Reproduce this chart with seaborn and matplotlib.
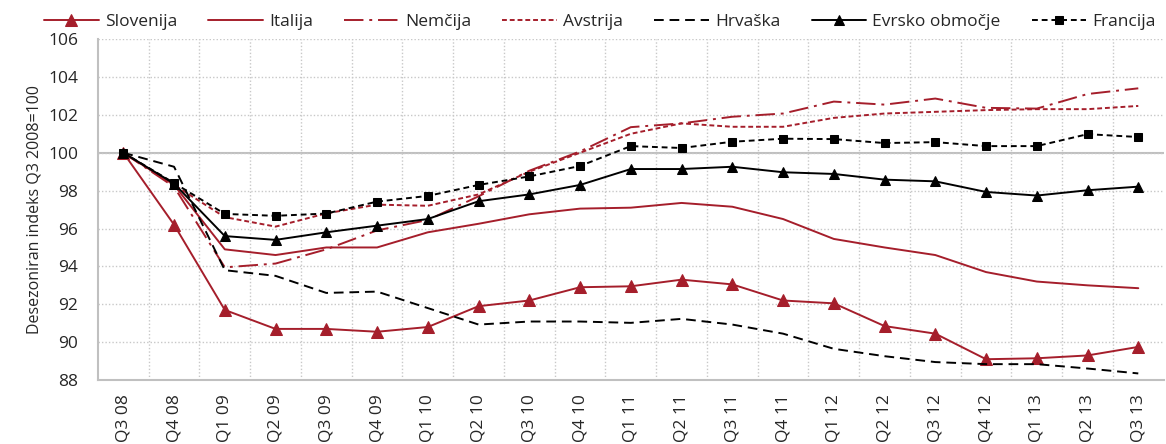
import matplotlib
matplotlib.use('Agg')
import matplotlib.pyplot as plt
import seaborn as sns
import pandas as pd

quarters = ['Q3 08', 'Q4 08', 'Q1 09', 'Q2 09', 'Q3 09', 'Q4 09', 'Q1 10', 'Q2 10', 'Q3 10', 'Q4 10',
            'Q1 11', 'Q2 11', 'Q3 11', 'Q4 11', 'Q1 12', 'Q2 12', 'Q3 12', 'Q4 12', 'Q1 13', 'Q2 13', 'Q3 13']

slovenija = [100, 96.2, 91.7, 90.7, 90.7, 90.55, 90.8, 91.9, 92.2, 92.9, 92.95,
             93.3, 93.05, 92.2, 92.05, 90.85, 90.45, 89.1, 89.15, 89.3, 89.75]
italija = [100, 98.3, 94.9, 94.6, 95.0, 95.0, 95.8, 96.25, 96.75, 97.05, 97.1,
           97.35, 97.15, 96.5, 95.45, 95.0, 94.6, 93.7, 93.2, 93.0, 92.85]
nemcija = [100, 98.2, 93.95, 94.15, 94.9, 95.9, 96.45, 97.7, 99.05, 100.07, 101.35,
           101.55, 101.9, 102.07, 102.7, 102.54, 102.86, 102.37, 102.33, 103.1, 103.4]
avstrija = [100, 98.3, 96.6, 96.1, 96.8, 97.26, 97.2, 97.8, 99.0, 100.0, 101.0,
            101.55, 101.37, 101.37, 101.84, 102.07, 102.16, 102.25, 102.3, 102.3, 102.47]
hrvaska = [100, 99.26, 93.8, 93.5, 92.6, 92.67, 91.8, 90.93, 91.09, 91.09, 91.02,
           91.23, 90.93, 90.45, 89.65, 89.26, 88.95, 88.84, 88.84, 88.61, 88.35]
evro = [100, 98.37, 95.6, 95.4, 95.8, 96.15, 96.5, 97.44, 97.8, 98.3, 99.14,
        99.14, 99.26, 98.97, 98.88, 98.58, 98.49, 97.93, 97.74, 98.02, 98.21]
francija = [100, 98.4, 96.77, 96.67, 96.79, 97.42, 97.72, 98.3, 98.75, 99.3, 100.35,
            100.25, 100.58, 100.74, 100.72, 100.51, 100.56, 100.35, 100.35, 100.98, 100.83]

red = '#a51e2b'
series = [
    ('Slovenija', slovenija, red, '-', '^', 8.5),
    ('Italija', italija, red, '-', None, 0),
    ('Nemčija', nemcija, red, (0, (10, 3, 1.5, 3)), None, 0),
    ('Avstrija', avstrija, red, (0, (2.5, 1.5)), None, 0),
    ('Hrvaška', hrvaska, 'black', (0, (5, 3)), None, 0),
    ('Evrsko območje', evro, 'black', '-', '^', 6.5),
    ('Francija', francija, 'black', (0, (3, 2)), 's', 6),
]

sns.set_style('white')
plt.rcParams['font.family'] = ['Open Sans', 'DejaVu Sans']

fig = plt.figure(figsize=(11.66, 4.44), dpi=100)
ax = fig.add_axes([0.084, 0.144, 0.914, 0.768])

pos = list(range(len(quarters)))
for name, vals, col, ls, mk, ms in series:
    df = pd.DataFrame({'x': pos, 'y': vals})
    sns.lineplot(data=df, x='x', y='y', ax=ax, color=col, linestyle=ls, marker=mk,
                 markersize=ms, markeredgecolor=col, linewidth=1.4, label=name)

ax.set_xlim(-0.5, len(quarters) - 0.5)
ax.set_ylim(88, 106)
ax.set_yticks(range(88, 107, 2))
ax.set_xticks(pos)
ax.set_xticklabels(quarters, rotation=90, fontsize=12.5)
ax.tick_params(axis='y', labelsize=12.5, pad=14, length=0)
ax.tick_params(axis='x', pad=10, length=0)
ax.set_xticks([p - 0.5 for p in pos[1:]], minor=True)
ax.grid(False)
ax.grid(axis='y', which='major', color='#c8c8c8', linestyle=(0, (1, 1.5)), linewidth=1)
ax.grid(axis='x', which='minor', color='#c8c8c8', linestyle=(0, (1, 1.5)), linewidth=1)
ax.tick_params(which='minor', length=0)
ax.axhline(100, color='#c0c0c0', linewidth=1.5, zorder=0.5)
ax.set_xlabel('')
ax.set_ylabel('Desezoniran indeks Q3 2008=100', fontsize=11.5, labelpad=4)
for s in ['left', 'bottom']:
    ax.spines[s].set_color('#c0c0c0')
    ax.spines[s].set_linewidth(1.5)
for s in ['top', 'right']:
    ax.spines[s].set_visible(False)

ax.get_legend().remove()
handles, labels = ax.get_legend_handles_labels()
fig.legend(handles, labels, loc='center', bbox_to_anchor=(600 / 1166, 1 - 22 / 444), ncol=7,
           frameon=False, fontsize=12.5, handlelength=3.15, columnspacing=1.8,
           handletextpad=0.35, borderpad=0.2)

fig.savefig('out.png', dpi=100)
